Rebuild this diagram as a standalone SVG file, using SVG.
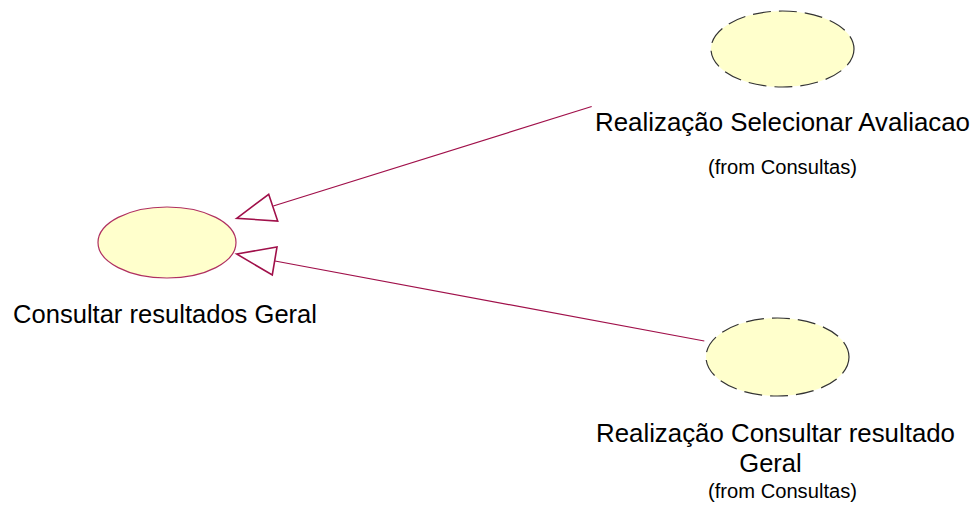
<svg xmlns="http://www.w3.org/2000/svg" width="977" height="507" viewBox="0 0 977 507">
<style>
.uc{fill:#FFFFCC;stroke:#B03060;stroke-width:1.2}
.real{fill:#FFFFCC;stroke:#333333;stroke-width:1.2;stroke-dasharray:18,8}
.lbl{font-family:"Liberation Sans",Arial,sans-serif;font-size:25.5px;fill:#000;text-anchor:middle}
.sub{font-family:"Liberation Sans",Arial,sans-serif;font-size:20px;fill:#000;text-anchor:middle}
.conn{stroke:#A0104A;stroke-width:1.2;fill:none}
.head{stroke:#A0104A;stroke-width:1.6;fill:#fff;stroke-linejoin:miter}
</style>
<rect width="977" height="507" fill="#fff"/>
<g id="connectors">
<line class="conn" x1="273.3" y1="206" x2="591.7" y2="106.5"/>
<polygon class="head" points="236.7,218.3 268.7,194.3 277.7,221"/>
<line class="conn" x1="275" y1="261" x2="704.3" y2="341"/>
<polygon class="head" points="236.7,254 277,247 272.3,275"/>
</g>
<g id="node-consultar-resultados-geral">
<ellipse class="uc" cx="167" cy="242.5" rx="69" ry="35.5"/>
<text class="lbl" x="165" y="323" textLength="304" lengthAdjust="spacingAndGlyphs">Consultar resultados Geral</text>
</g>
<g id="node-realizacao-selecionar-avaliacao">
<ellipse class="real" cx="782.5" cy="49" rx="71.5" ry="38"/>
<text class="lbl" x="782.5" y="131" textLength="375" lengthAdjust="spacingAndGlyphs">Realização Selecionar Avaliacao</text>
<text class="sub" x="782.5" y="174" textLength="149" lengthAdjust="spacingAndGlyphs">(from Consultas)</text>
</g>
<g id="node-realizacao-consultar-resultado-geral">
<ellipse class="real" cx="777.5" cy="357" rx="71.5" ry="39"/>
<text class="lbl" x="775.5" y="442" textLength="359" lengthAdjust="spacingAndGlyphs">Realização Consultar resultado</text>
<text class="lbl" x="770.5" y="472">Geral</text>
<text class="sub" x="782.5" y="498" textLength="149" lengthAdjust="spacingAndGlyphs">(from Consultas)</text>
</g>
</svg>
